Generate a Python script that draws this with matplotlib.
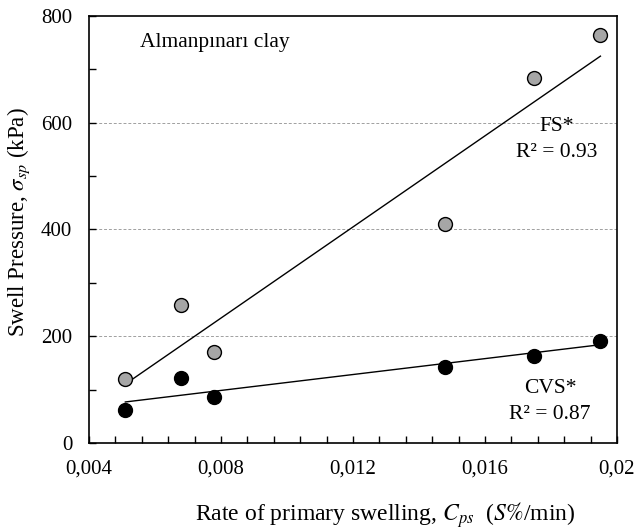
import matplotlib.pyplot as plt
import numpy as np
from matplotlib.ticker import MultipleLocator, FixedLocator

plt.rcParams['font.family'] = ['Liberation Serif', 'DejaVu Serif']
plt.rcParams['mathtext.fontset'] = 'stix'

# data
cps = [0.0051, 0.0068, 0.0078, 0.0148, 0.0175, 0.0195]
fs_pressure = [120, 258, 170, 411, 684, 764]
cvs_pressure = [61, 121, 86, 143, 163, 192]
x_ticks = [0.004, 0.008, 0.012, 0.016, 0.02]
x_tick_labels = ['0,004', '0,008', '0,012', '0,016', '0,02']
y_ticks = [0, 200, 400, 600, 800]


def main():
    fig = plt.figure(figsize=(6.36, 5.31), dpi=100)
    ax = fig.add_axes([0.140, 0.1657, 0.830, 0.8043])

    x = np.array(cps)
    for y, face in [(fs_pressure, '#a6a6a6'), (cvs_pressure, 'black')]:
        k, b = np.polyfit(x, y, 1)
        xs = np.array([x.min(), x.max()])
        ax.plot(xs, k * xs + b, color='black', lw=1.0, zorder=2)
        ax.scatter(x, y, s=100, facecolor=face, edgecolor='black', lw=1.0, zorder=3)

    ax.set_xlim(0.004, 0.02)
    ax.set_ylim(0, 800)
    ax.xaxis.set_major_locator(FixedLocator(x_ticks))
    ax.set_xticklabels(x_tick_labels)
    ax.xaxis.set_minor_locator(MultipleLocator(0.0008))
    ax.set_yticks(y_ticks)
    ax.yaxis.set_minor_locator(MultipleLocator(100))
    ax.tick_params(which='both', direction='in', labelsize=15, length=5, width=1)
    ax.tick_params(axis='x', pad=12)
    ax.tick_params(axis='y', pad=12)

    for yv in [200, 400, 600]:
        ax.axhline(yv, color='#a0a0a0', lw=0.7, ls=(0, (3, 2)), zorder=1)

    for s in ax.spines.values():
        s.set_linewidth(1.2)

    ax.text(0.005545, 751, 'Almanpınarı clay', fontsize=15.5, ha='left', va='center')
    ax.text(0.01817, 592, 'FS*', fontsize=15.5, ha='center', va='center')
    ax.text(0.01817, 545, 'R² = 0.93', fontsize=15.5, ha='center', va='center')
    ax.text(0.01797, 102, 'CVS*', fontsize=15.5, ha='center', va='center')
    ax.text(0.01797, 54, 'R² = 0.87', fontsize=15.5, ha='center', va='center')

    ax.set_ylabel(r'Swell Pressure, $\sigma_{sp}$ (kPa)', fontsize=16.5)
    ax.yaxis.set_label_coords(-0.108, 0.517)
    ax.set_xlabel(r'Rate of primary swelling, $C_{ps}$  ($S\%$/min)', fontsize=17)
    ax.xaxis.set_label_coords(0.5606, -0.133)

    fig.savefig('out.png', dpi=100)


if __name__ == "__main__":
    main()
